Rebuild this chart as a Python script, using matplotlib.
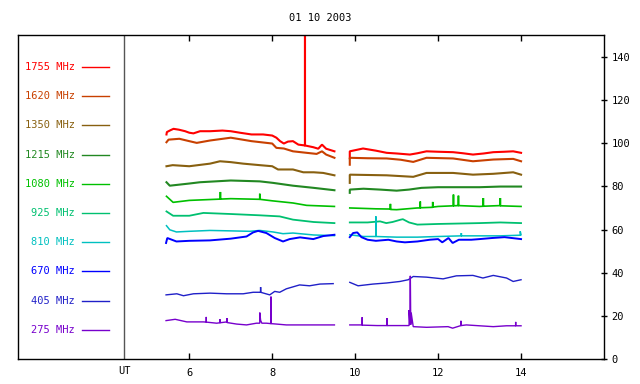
import matplotlib
matplotlib.use('Agg')
import matplotlib.pyplot as plt

# Observation date and channel labels
title = '01 10 2003'
labels = ['1755 MHz', '1620 MHz', '1350 MHz', '1215 MHz', '1080 MHz',
          '925 MHz', '810 MHz', '670 MHz', '405 MHz', '275 MHz']
colors = ['#ff0000', '#c84000', '#886010', '#228822', '#00c000',
          '#00c070', '#00c0c0', '#0000ff', '#2020c8', '#7700cc']
widths = [1.5, 1.5, 1.5, 1.5, 1.2, 1.3, 1.1, 1.4, 1.0, 1.0]

xticks = [6, 8, 10, 12, 14]
yticks = [0, 20, 40, 60, 80, 100, 120, 140]

# (UT hour, flux) pairs, first and second observing block
ch1755_a = [(5.45, 104.0), (5.46, 105.1), (5.55, 106.0), (5.62, 106.6), (5.75, 106.2),
            (5.9, 105.5), (6.0, 104.8), (6.1, 104.5), (6.26, 105.5), (6.5, 105.5),
            (6.8, 105.8), (7.0, 105.5), (7.22, 104.8), (7.5, 104.0), (7.78, 104.0),
            (8.0, 103.5), (8.1, 102.5), (8.19, 100.9), (8.28, 99.8), (8.38, 100.7),
            (8.5, 100.9), (8.63, 99.3), (8.79, 98.9), (8.79, 200.0), (8.79, 98.9),
            (8.99, 98.1), (9.11, 97.4), (9.2, 99.3), (9.3, 97.4), (9.5, 96.2)]
ch1755_b = [(9.87, 93.0), (9.87, 96.2), (10.19, 97.5), (10.5, 96.5), (10.76, 95.5),
            (11.0, 95.2), (11.32, 94.7), (11.5, 95.3), (11.72, 96.2), (12.0, 96.0),
            (12.36, 95.8), (12.6, 95.3), (12.84, 94.7), (13.1, 95.2), (13.33, 95.8),
            (13.6, 96.0), (13.81, 96.2), (14.0, 95.5)]

ch1620_a = [(5.45, 100.4), (5.5, 101.6), (5.76, 102.0), (6.0, 100.9), (6.18, 100.1),
            (6.5, 101.2), (7.0, 102.5), (7.22, 101.8), (7.5, 100.9), (8.0, 99.8),
            (8.1, 97.8), (8.28, 97.5), (8.5, 96.2), (8.83, 95.5), (9.07, 95.0),
            (9.2, 96.2), (9.3, 94.7), (9.5, 93.2)]
ch1620_b = [(9.87, 90.0), (9.87, 93.2), (10.3, 93.0), (10.76, 92.9), (11.1, 92.3),
            (11.4, 91.3), (11.72, 93.2), (12.36, 92.9), (12.84, 91.6), (13.33, 92.4),
            (13.81, 92.7), (14.0, 91.6)]

ch1350_a = [(5.45, 89.3), (5.6, 89.8), (6.0, 89.3), (6.5, 90.5), (6.74, 91.6),
            (7.0, 91.2), (7.3, 90.5), (7.7, 89.8), (8.0, 89.3), (8.14, 87.8),
            (8.5, 87.8), (8.75, 86.5), (9.0, 86.5), (9.23, 86.2), (9.5, 85.1)]
ch1350_b = [(9.87, 81.6), (9.87, 85.4), (10.76, 85.1), (11.4, 84.4), (11.72, 86.2),
            (12.36, 86.2), (12.84, 85.4), (13.33, 85.8), (13.81, 86.5), (14.0, 85.4)]

ch1215_a = [(5.45, 81.9), (5.53, 80.3), (6.0, 81.3), (6.26, 81.9), (7.0, 82.7),
            (7.7, 82.3), (8.02, 81.6), (8.5, 80.3), (9.0, 79.3), (9.5, 78.2)]
ch1215_b = [(9.87, 77.0), (9.87, 78.5), (10.2, 78.9), (10.6, 78.5), (11.0, 78.0),
            (11.3, 78.5), (11.6, 79.3), (12.0, 79.6), (12.5, 79.6), (13.0, 79.6),
            (13.5, 79.9), (14.0, 79.9)]

ch1080_a = [(5.45, 75.4), (5.61, 72.6), (6.0, 73.5), (6.5, 73.9), (6.75, 74.1),
            (6.75, 77.4), (6.75, 74.1), (7.0, 74.3), (7.7, 74.0), (7.7, 76.6),
            (7.7, 74.0), (8.0, 73.3), (8.5, 72.3), (8.83, 71.2), (9.5, 70.7)]
ch1080_b = [(9.87, 70.0), (10.5, 69.6), (10.85, 69.5), (10.85, 71.9), (10.85, 69.3),
            (11.0, 69.2), (11.5, 70.0), (11.57, 70.0), (11.57, 73.0), (11.57, 70.1),
            (11.87, 70.3), (11.87, 72.8), (11.87, 70.4), (12.0, 70.7), (12.37, 71.0),
            (12.37, 76.2), (12.37, 71.0), (12.49, 71.1), (12.49, 75.7), (12.49, 71.1),
            (13.0, 70.7), (13.09, 70.8), (13.09, 74.6), (13.09, 70.8), (13.5, 71.1),
            (13.5, 74.6), (13.5, 71.0), (14.0, 70.7)]

ch925_a = [(5.45, 68.4), (5.61, 66.4), (6.0, 66.4), (6.34, 67.7), (7.0, 67.2),
           (7.7, 66.6), (8.18, 66.1), (8.5, 64.6), (9.0, 63.5), (9.5, 63.0)]
ch925_b = [(9.87, 63.3), (10.3, 63.3), (10.6, 63.8), (10.75, 63.0), (10.9, 63.5),
           (11.1, 64.6), (11.15, 64.8), (11.3, 63.3), (11.5, 62.3), (12.0, 62.6),
           (12.5, 62.8), (13.0, 63.0), (13.5, 63.3), (14.0, 63.0)]

ch810_a = [(5.45, 61.8), (5.53, 59.9), (5.69, 58.9), (6.0, 59.2), (6.5, 59.6),
           (7.0, 59.4), (7.46, 59.2), (7.7, 59.6), (8.02, 58.9), (8.26, 58.1),
           (8.5, 58.4), (9.0, 57.5), (9.5, 57.2)]
ch810_b = [(9.87, 57.6), (10.2, 56.8), (10.5, 56.8), (10.5, 66.1), (10.5, 56.8),
           (11.0, 56.5), (11.5, 56.5), (12.0, 56.8), (12.56, 57.1),
           (12.56, 58.4), (12.56, 57.1), (13.0, 57.1), (13.5, 57.1), (13.98, 57.4),
           (13.98, 59.2), (14.0, 57.6)]

ch670_a = [(5.44, 53.8), (5.47, 56.1), (5.69, 54.5), (6.0, 54.8), (6.5, 55.0),
           (7.0, 55.8), (7.38, 56.8), (7.54, 58.7), (7.66, 59.4), (7.86, 58.4),
           (8.06, 56.1), (8.26, 54.5), (8.42, 55.6), (8.67, 56.4), (8.99, 55.6),
           (9.23, 57.0), (9.5, 57.6)]
ch670_b = [(9.87, 56.5), (9.95, 58.4), (10.05, 58.7), (10.15, 56.5), (10.3, 55.3),
           (10.5, 54.8), (10.8, 55.3), (11.0, 54.5), (11.2, 54.1), (11.5, 54.5),
           (11.8, 55.3), (12.0, 55.6), (12.1, 54.1), (12.25, 56.1), (12.35, 53.8),
           (12.5, 55.3), (12.8, 55.3), (13.0, 55.6), (13.3, 56.1), (13.6, 56.5),
           (14.0, 55.6)]

ch405_a = [(5.44, 29.8), (5.7, 30.3), (5.86, 29.4), (6.1, 30.3), (6.5, 30.6),
           (6.9, 30.3), (7.3, 30.3), (7.54, 31.0), (7.72, 31.0), (7.72, 33.4),
           (7.72, 31.0), (7.94, 29.8), (8.06, 31.4), (8.18, 31.0), (8.34, 32.6),
           (8.66, 34.4), (8.9, 34.0), (9.15, 34.8), (9.47, 35.0)]
ch405_b = [(9.87, 35.6), (10.07, 34.0), (10.43, 34.8), (10.76, 35.3), (11.08, 36.0),
           (11.28, 36.8), (11.4, 38.3), (11.72, 38.0), (12.12, 37.2), (12.44, 38.6),
           (12.84, 38.8), (13.08, 37.6), (13.33, 38.8), (13.65, 37.6), (13.81, 36.0),
           (14.0, 36.8)]

ch275_a = [(5.44, 17.9), (5.66, 18.5), (5.94, 17.3), (6.34, 17.3), (6.41, 17.2),
           (6.41, 19.6), (6.41, 17.2), (6.66, 16.7), (6.74, 16.9), (6.74, 18.5),
           (6.74, 16.9), (6.91, 17.3), (6.91, 19.1), (6.91, 17.0), (7.14, 16.3),
           (7.38, 15.9), (7.62, 16.7), (7.70, 16.7), (7.70, 21.6), (7.72, 18.0),
           (7.75, 16.7), (7.86, 16.7), (7.97, 16.5), (7.97, 29.0), (7.97, 16.5),
           (8.1, 16.3), (8.34, 15.9), (9.5, 15.9)]
ch275_b = [(9.87, 15.9), (10.17, 15.9), (10.17, 19.5), (10.17, 15.8), (10.53, 15.6),
           (10.77, 15.6), (10.77, 19.1), (10.77, 15.6), (11.08, 15.6), (11.3, 15.6),
           (11.3, 22.8), (11.32, 16.0), (11.33, 38.6), (11.34, 16.0), (11.35, 21.6),
           (11.4, 15.1), (11.72, 14.8), (12.24, 15.1), (12.35, 14.4), (12.55, 15.6),
           (12.55, 17.8), (12.55, 15.6), (12.68, 15.9), (13.0, 15.5), (13.33, 15.1),
           (13.65, 15.5), (13.87, 15.5), (13.87, 17.3), (13.87, 15.5), (14.0, 15.5)]

blocks = [(ch1755_a, ch1755_b), (ch1620_a, ch1620_b), (ch1350_a, ch1350_b),
          (ch1215_a, ch1215_b), (ch1080_a, ch1080_b), (ch925_a, ch925_b),
          (ch810_a, ch810_b), (ch670_a, ch670_b), (ch405_a, ch405_b),
          (ch275_a, ch275_b)]

fig = plt.figure(figsize=(6.4, 3.84), dpi=100)
ax = fig.add_axes([18 / 640, 1 - 359.3 / 384, 586 / 640, 324.3 / 384])
ax.set_xlim(1.87, 16.0)
ax.set_ylim(0, 150)
font = dict(family='DejaVu Sans Mono', fontsize=7.5)

for (seg_a, seg_b), c, w in zip(blocks, colors, widths):
    for seg in (seg_a, seg_b):
        ax.plot([p[0] for p in seg], [p[1] for p in seg], color=c, lw=w,
                solid_joinstyle='bevel')

# Legend column on the left
for i, (lab, c) in enumerate(zip(labels, colors)):
    y = (359.3 - (67 + i * 29.2)) / 324.3
    ax.text(0.0975, y, lab, color=c, ha='right', va='center',
            transform=ax.transAxes, **font)
    ax.plot([0.109, 0.156], [y, y], color=c, lw=1.0, transform=ax.transAxes)

# UT separator
ax.axvline(4.43, color='#555555', lw=1.0)
ax.text(4.43, -0.022, 'UT', ha='center', va='top',
        transform=ax.get_xaxis_transform(), **font)

ax.set_xticks(xticks)
ax.set_xticklabels([str(v) for v in xticks], **font)
ax.tick_params(axis='x', direction='in', length=4, top=True, width=1.0, pad=6)
ax.yaxis.tick_right()
ax.set_yticks(yticks)
ax.set_yticklabels([str(v) for v in yticks], **font)
ax.tick_params(axis='y', direction='inout', length=5, width=1.0, pad=3)
for s in ax.spines.values():
    s.set_linewidth(1.0)

fig.text(0.5, 1 - 18 / 384, title, ha='center', va='center', **font)

fig.savefig('out.png', dpi=100)
